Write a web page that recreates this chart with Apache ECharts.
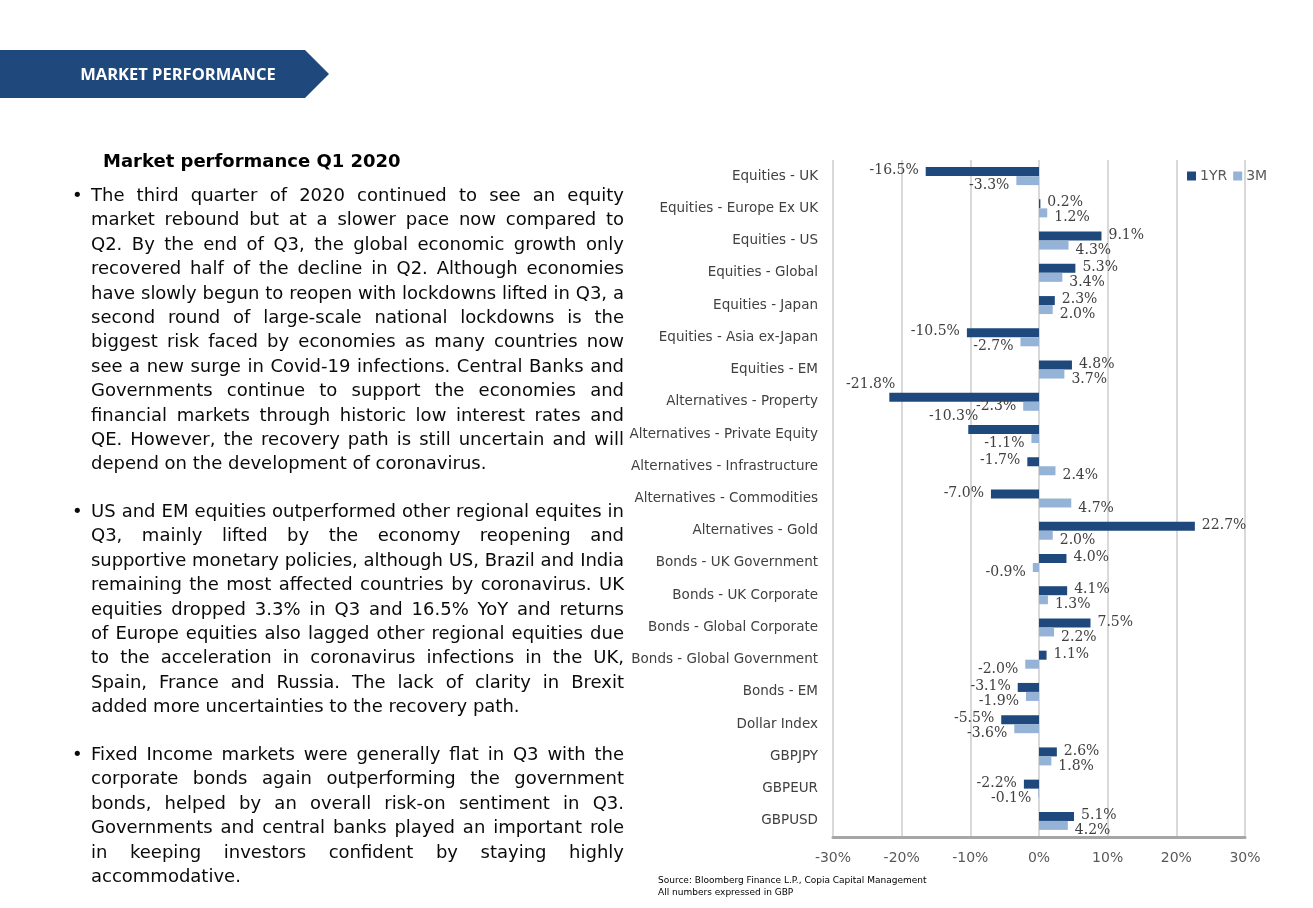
<!DOCTYPE html>
<html><head><meta charset="utf-8">
<script src="https://cdn.jsdelivr.net/npm/echarts@6/dist/echarts.min.js"></script>
<style>
html,body{margin:0;padding:0;background:#fff;}
#chart{position:absolute;left:0;top:0;width:1313px;height:908px;}
.para{position:absolute;left:91px;width:533px;font-family:'DejaVu Sans';font-size:18px;line-height:24.4px;color:#0a0a0a;}
.para div{white-space:nowrap;text-align:justify;text-align-last:justify;}
.para div.last{text-align-last:left;}
.bullet{position:absolute;left:72px;font-family:'DejaVu Sans';font-size:18px;line-height:24.4px;color:#0a0a0a;}
</style></head><body>
<div id="chart"></div>
<div id="text"></div>
<script>
// ---- data ----
const categories = [
  'Equities - UK','Equities - Europe Ex UK','Equities - US','Equities - Global','Equities - Japan',
  'Equities - Asia ex-Japan','Equities - EM','Alternatives - Property','Alternatives - Private Equity',
  'Alternatives - Infrastructure','Alternatives - Commodities','Alternatives - Gold','Bonds - UK Government',
  'Bonds - UK Corporate','Bonds - Global Corporate','Bonds - Global Government','Bonds - EM','Dollar Index',
  'GBPJPY','GBPEUR','GBPUSD'
];
const oneYear = [-16.5, 0.2, 9.1, 5.3, 2.3, -10.5, 4.8, -21.8, -10.3, -1.7, -7.0, 22.7, 4.0, 4.1, 7.5, 1.1, -3.1, -5.5, 2.6, -2.2, 5.1];
const threeMonth = [-3.3, 1.2, 4.3, 3.4, 2.0, -2.7, 3.7, -2.3, -1.1, 2.4, 4.7, 2.0, -0.9, 1.3, 2.2, -2.0, -1.9, -3.6, 1.8, -0.1, 4.2];
const seriesNames = ['1YR', '3M'];
const xMin = -30, xMax = 30, xStep = 10;

const bannerText = 'MARKET PERFORMANCE';
const titleText = 'Market performance Q1 2020';
const sourceLines = ['Source: Bloomberg Finance L.P., Copia Capital Management', 'All numbers expressed in GBP'];
const paragraphs = [
  ['The third quarter of 2020 continued to see an equity',
   'market rebound but at a slower pace now compared to',
   'Q2. By the end of Q3, the global economic growth only',
   'recovered half of the decline in Q2. Although economies',
   'have slowly begun to reopen with lockdowns lifted in Q3, a',
   'second round of large-scale national lockdowns is the',
   'biggest risk faced by economies as many countries now',
   'see a new surge in Covid-19 infections. Central Banks and',
   'Governments continue to support the economies and',
   'financial markets through historic low interest rates and',
   'QE. However, the recovery path is still uncertain and will',
   'depend on the development of coronavirus.'],
  ['US and EM equities outperformed other regional equites in',
   'Q3, mainly lifted by the economy reopening and',
   'supportive monetary policies, although US, Brazil and India',
   'remaining the most affected countries by coronavirus. UK',
   'equities dropped 3.3% in Q3 and 16.5% YoY and returns',
   'of Europe equities also lagged other regional equities due',
   'to the acceleration in coronavirus infections in the UK,',
   'Spain, France and Russia. The lack of clarity in Brexit',
   'added more uncertainties to the recovery path.'],
  ['Fixed Income markets were generally flat in Q3 with the',
   'corporate bonds again outperforming the government',
   'bonds, helped by an overall risk-on sentiment in Q3.',
   'Governments and central banks played an important role',
   'in keeping investors confident by staying highly',
   'accommodative.']
];

// ---- left text (HTML) ----
const paraTops = [183, 499, 742];
const textRoot = document.getElementById('text');
paragraphs.forEach((lines, pi) => {
  const b = document.createElement('div');
  b.className = 'bullet'; b.style.top = paraTops[pi] + 'px'; b.textContent = '\u2022';
  textRoot.appendChild(b);
  const p = document.createElement('div');
  p.className = 'para'; p.style.top = paraTops[pi] + 'px';
  lines.forEach((ln, li) => {
    const d = document.createElement('div');
    if (li === lines.length - 1) d.className = 'last';
    d.textContent = ln;
    p.appendChild(d);
  });
  textRoot.appendChild(p);
});
// shrink any line that would overflow
document.querySelectorAll('.para div').forEach(d => {
  const s = document.createElement('span'); s.textContent = d.textContent; s.style.whiteSpace = 'nowrap';
  s.style.font = getComputedStyle(d).font; s.style.position = 'absolute'; s.style.visibility = 'hidden';
  document.body.appendChild(s);
  const w = s.getBoundingClientRect().width; s.remove();
  if (w > 531) d.style.letterSpacing = ((531 - w) / d.textContent.length) + 'px';
});

// ---- chart ----
const DARK = '#1F497D', LIGHT = '#95B3D7';
const nudge1 = { 'Alternatives - Property': [13, -13], 'Alternatives - Private Equity': [17, -13] };
const nudge3 = { 'Alternatives - Property': [0, 0] };
function build(vals, baseOffset, nudge) {
  return vals.map((v, i) => ({
    value: v,
    label: { position: v < 0 ? 'left' : 'right', offset: nudge[categories[i]] || baseOffset }
  }));
}
const labelCommon = {
  show: true, distance: 7,
  fontFamily: 'DejaVu Serif', fontSize: 14, color: '#404040',
  formatter: p => p.value.toFixed(1) + '%'
};

const chart = echarts.init(document.getElementById('chart'), null, { renderer: 'canvas' });
chart.setOption({
  animation: false,
  backgroundColor: '#ffffff',
  grid: { left: 833, right: 68, top: 160, bottom: 71 },
  legend: {
    data: seriesNames, left: 1182, top: 164, icon: 'rect', itemWidth: 9, itemHeight: 9, itemGap: 6,
    textStyle: { fontFamily: 'DejaVu Sans', fontSize: 14, color: '#595959', padding: [0, 0, 0, -1] }
  },
  xAxis: {
    type: 'value', min: xMin, max: xMax, interval: xStep,
    axisLine: { show: true, onZero: false, lineStyle: { color: '#A6A6A6', width: 3 } },
    axisTick: { show: false },
    axisLabel: { formatter: v => v + '%', fontFamily: 'DejaVu Sans', fontSize: 14, color: '#595959', margin: 14 },
    splitLine: { show: true, lineStyle: { color: '#D9D9D9', width: 2 } }
  },
  yAxis: {
    type: 'category', data: categories, inverse: true,
    axisLine: { show: false }, axisTick: { show: false },
    axisLabel: { fontFamily: 'DejaVu Sans', fontSize: 13.5, color: '#404040', margin: 15 }
  },
  series: [
    { name: seriesNames[0], type: 'bar', barWidth: 9, barGap: '0%', itemStyle: { color: DARK },
      label: Object.assign({}, labelCommon), data: build(oneYear, [0, -1], nudge1) },
    { name: seriesNames[1], type: 'bar', barWidth: 9, barGap: '0%', itemStyle: { color: LIGHT },
      label: Object.assign({}, labelCommon), data: build(threeMonth, [0, 5], nudge3) }
  ],
  graphic: [
    { type: 'polygon', shape: { points: [[0, 50], [305, 50], [329, 74], [305, 98], [0, 98]] }, style: { fill: DARK } },
    { type: 'text', x: 178, y: 75, style: { text: bannerText, fill: '#fff', font: 'bold 16.5px "Open Sans"',
      align: 'center', verticalAlign: 'middle', textAlign: 'center', textVerticalAlign: 'middle' } },
    { type: 'text', x: 103, y: 162, style: { text: titleText, fill: '#000', font: 'bold 18px "DejaVu Sans"',
      align: 'left', verticalAlign: 'middle', textAlign: 'left', textVerticalAlign: 'middle' } },
    { type: 'text', x: 658, y: 881, style: { text: sourceLines[0], fill: '#000', font: '9px "DejaVu Sans"',
      align: 'left', verticalAlign: 'middle', textAlign: 'left', textVerticalAlign: 'middle' } },
    { type: 'text', x: 658, y: 893, style: { text: sourceLines[1], fill: '#000', font: '9px "DejaVu Sans"',
      align: 'left', verticalAlign: 'middle', textAlign: 'left', textVerticalAlign: 'middle' } }
  ]
});
</script>
</body></html>
